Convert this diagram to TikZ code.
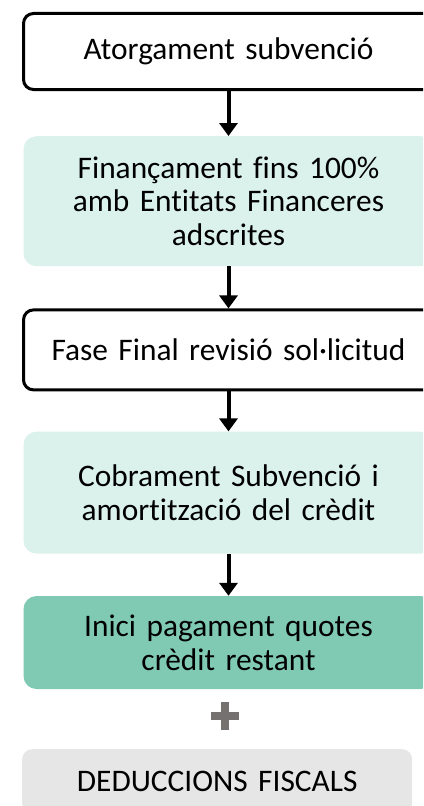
\documentclass[tikz,border=0pt]{standalone}
\usepackage{fontspec}
\setmainfont{Carlito}[Ligatures={NoCommon},WordSpace=0.9]
\usetikzlibrary{arrows.meta}
\usetikzlibrary{positioning}

\definecolor{palemint}{HTML}{DBF2EC}
\definecolor{mint}{HTML}{80C9B3}
\definecolor{greybox}{HTML}{E6E6E6}
\definecolor{plusgrey}{HTML}{767171}

\tikzset{
  stage/.style={rectangle,rounded corners=13bp,minimum width=410bp,
    text width=400bp,align=center,font=\fontsize{31.5}{34}\selectfont,inner sep=0pt},
  outlined/.style={stage,draw=black,line width=3bp,rounded corners=10bp},
  palestage/.style={stage,fill=palemint},
  mintstage/.style={stage,fill=mint},
  greystage/.style={stage,fill=greybox,minimum width=390bp,text width=380bp,rounded corners=10bp},
  flow/.style={line width=4bp,-{Triangle[width=18bp,length=13bp]}}
}

\begin{document}
\begin{tikzpicture}[x=1bp,y=-1bp]

  \useasboundingbox (0,0) rectangle (423,806);
  \clip (0,0) rectangle (423,806);

  \node [outlined,minimum height=76bp,anchor=north west] (grant) at (22,12) {Atorgament subvenció};
  \node [palestage,minimum height=130bp,below=45bp of grant] (loan)
    {Finançament fins 100\%\\amb Entitats Financeres\\adscrites};
  \node [outlined,minimum height=80bp,below=42bp of loan] (review) {Fase Final revisió sol·licitud};
  \node [palestage,minimum height=122bp,below=40bp of review] (payout)
    {Cobrament Subvenció i\\amortització del crèdit};
  \node [mintstage,minimum height=93bp,below=42bp of payout] (instal)
    {Inici pagament quotes\\crèdit restant};
  \node [greystage,minimum height=64bp,anchor=north west] (tax) at (22,749) {DEDUCCIONS FISCALS};

  \coordinate (plus) at (225,716);
  \draw [plusgrey,line width=8bp] ([xshift=-14bp]plus) -- ([xshift=14bp]plus);
  \draw [plusgrey,line width=8bp] ([yshift=-14bp]plus) -- ([yshift=14bp]plus);

  \path [draw]
    (grant)  edge [flow] (loan)
    (loan)   edge [flow] (review)
    (review) edge [flow] (payout)
    (payout) edge [flow] (instal);

\end{tikzpicture}
\end{document}
